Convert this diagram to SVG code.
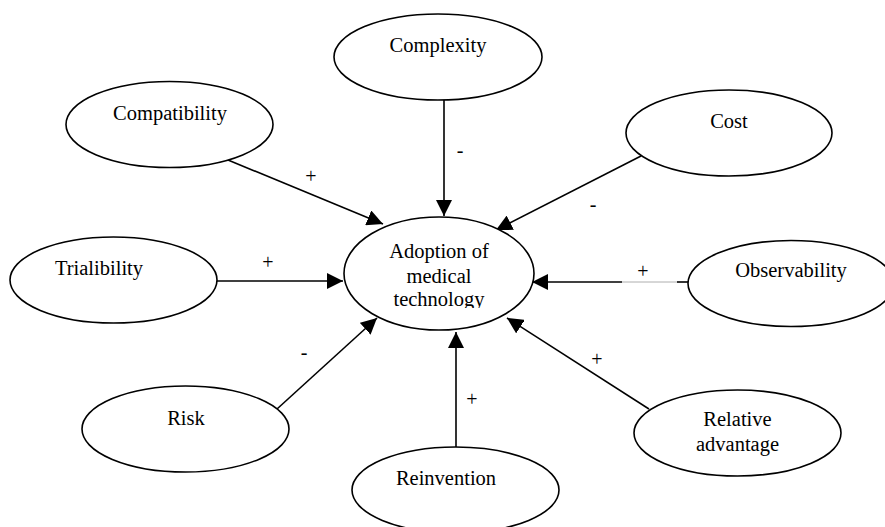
<svg xmlns="http://www.w3.org/2000/svg" width="885" height="527" viewBox="0 0 885 527">
<style>
  .node ellipse { fill: #fff; stroke: #000; stroke-width: 1.6; }
  text { font-family: 'Liberation Serif', serif; font-size: 20.5px; fill: #000; text-anchor: middle; }
  .lbl { font-size: 20px; }
  .edge { stroke: #000; stroke-width: 1.6; fill: none; }
  .thin { stroke: #9a9a9a; stroke-width: 0.8; }
</style>
<defs>
  <marker id="arr" markerUnits="userSpaceOnUse" markerWidth="16" markerHeight="16" refX="16" refY="8" orient="auto">
    <path d="M0,0 L16,8 L0,16 z" fill="#000"/>
  </marker>
  <clipPath id="clipC"><rect x="340" y="210" width="200" height="98"/></clipPath>
</defs>
<rect width="885" height="527" fill="#fff"/>

<g id="connectors">
  <line class="edge" x1="444" y1="100" x2="444" y2="216" marker-end="url(#arr)"/>
  <line class="edge" x1="228" y1="160" x2="383" y2="224" marker-end="url(#arr)"/>
  <line class="edge" x1="641" y1="156" x2="496" y2="230" marker-end="url(#arr)"/>
  <line class="edge" x1="217" y1="281" x2="343" y2="281" marker-end="url(#arr)"/>
  <line class="edge" x1="688" y1="282" x2="677" y2="282"/>
  <line class="edge thin" x1="677" y1="282" x2="622" y2="282"/>
  <line class="edge" x1="622" y1="282" x2="532" y2="282" marker-end="url(#arr)"/>
  <line class="edge" x1="277" y1="409" x2="377" y2="318" marker-end="url(#arr)"/>
  <line class="edge" x1="456" y1="447" x2="456" y2="332" marker-end="url(#arr)"/>
  <line class="edge" x1="649" y1="409" x2="507" y2="318" marker-end="url(#arr)"/>
  <g font-family="Liberation Serif, serif">
  <text class="lbl" x="311" y="183">+</text>
  <text class="lbl" x="460" y="157">-</text>
  <text class="lbl" x="593" y="211">-</text>
  <text class="lbl" x="268" y="269">+</text>
  <text class="lbl" x="643" y="278">+</text>
  <text class="lbl" x="304" y="359">-</text>
  <text class="lbl" x="472" y="406">+</text>
  <text class="lbl" x="597" y="366">+</text>
  </g>
</g>

<g id="center" class="node">
  <ellipse cx="439" cy="273.5" rx="95" ry="56.5"/>
  <g clip-path="url(#clipC)">
    <text x="439" y="258">Adoption of</text>
    <text x="439" y="283">medical</text>
    <text x="439" y="306">technology</text>
  </g>
</g>
<g id="complexity" class="node">
  <ellipse cx="438" cy="57" rx="104" ry="43"/>
  <text x="438" y="52">Complexity</text>
</g>
<g id="compatibility" class="node">
  <ellipse cx="169.5" cy="124.5" rx="103.5" ry="43"/>
  <text x="170" y="120">Compatibility</text>
</g>
<g id="cost" class="node">
  <ellipse cx="729" cy="133" rx="103" ry="43"/>
  <text x="729" y="128">Cost</text>
</g>
<g id="trialibility" class="node">
  <ellipse cx="113.5" cy="280" rx="103.5" ry="43"/>
  <text x="99" y="275">Trialibility</text>
</g>
<g id="observability" class="node">
  <ellipse cx="791" cy="283.5" rx="103" ry="43"/>
  <text x="791" y="277">Observability</text>
</g>
<g id="risk" class="node">
  <ellipse cx="185.5" cy="429" rx="103.5" ry="43"/>
  <text x="186" y="425">Risk</text>
</g>
<g id="reinvention" class="node">
  <ellipse cx="455.5" cy="490" rx="103.5" ry="43"/>
  <text x="446" y="485">Reinvention</text>
</g>
<g id="relative-advantage" class="node">
  <ellipse cx="737.5" cy="433" rx="103.5" ry="43"/>
  <text x="737.5" y="426">Relative</text>
  <text x="737.5" y="451">advantage</text>
</g>
</svg>
